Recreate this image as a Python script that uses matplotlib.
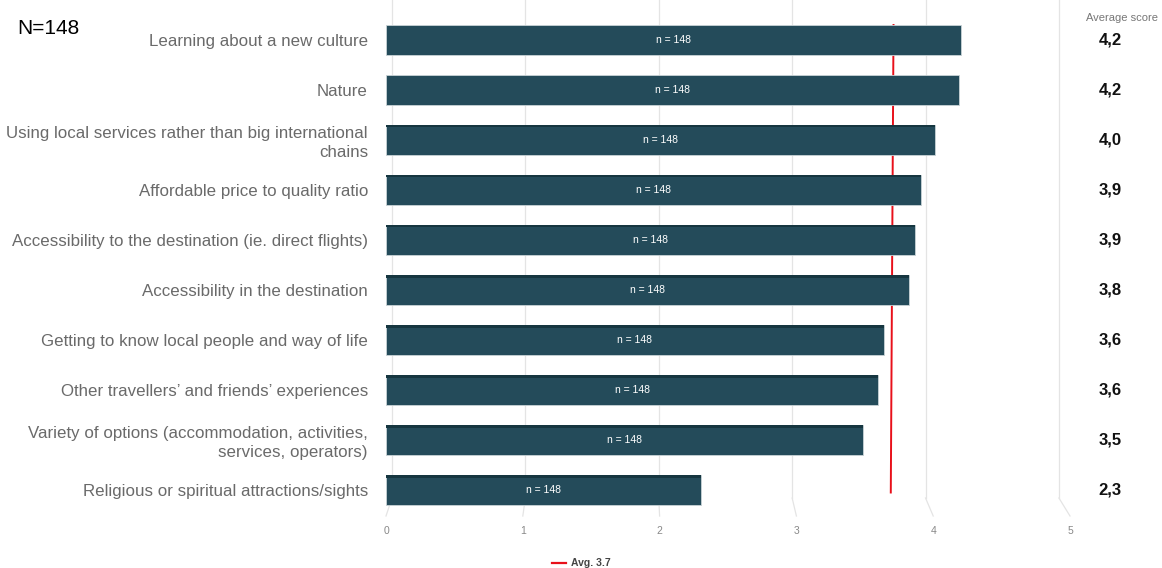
import numpy as np
import matplotlib.pyplot as plt
import matplotlib.transforms as mtransforms

plt.rcParams['font.family'] = ['Liberation Sans', 'DejaVu Sans']

categories = ['Learning about a new culture',
              'Nature',
              'Using local services rather than big international\nchains',
              'Affordable price to quality ratio',
              'Accessibility to the destination (ie. direct flights)',
              'Accessibility in the destination',
              'Getting to know local people and way of life',
              'Other travellers\u2019 and friends\u2019 experiences',
              'Variety of options (accommodation, activities,\nservices, operators)',
              'Religious or spiritual attractions/sights']
scores = [4.20, 4.19, 4.01, 3.91, 3.87, 3.82, 3.64, 3.60, 3.49, 2.30]
score_labels = ['4,2', '4,2', '4,0', '3,9', '3,9', '3,8', '3,6', '3,6', '3,5', '2,3']
n_resp = [148] * 10
avg = 3.7
ticks = [0, 1, 2, 3, 4, 5]

bar_col = '#244b5a'
top_col = '#163640'
grid_col = '#e4e4e4'

fig = plt.figure(figsize=(11.62, 5.68), dpi=100)
ax = fig.add_axes([386 / 1162, 1 - 515 / 568, (1070 - 386) / 1162, 500 / 568])

y = np.arange(len(categories))

# gridlines sit on a slightly narrower back wall, with a slanted foot to the tick
for t in ticks:
    xb = 0.044 + t * 0.975
    ax.plot([xb, xb], [-0.8, 9.16], color=grid_col, lw=0.9, zorder=0, clip_on=False)
    ax.plot([xb, t], [9.16, 9.52], color=grid_col, lw=0.9, zorder=0, clip_on=False)

# average line behind the bars
ax.plot([avg + 0.01, avg - 0.01], [-0.3, 9.05], color='#e8101a', lw=1.4, zorder=1)

ax.barh(y, scores, height=0.6, color=bar_col, edgecolor='#c9d3d6', linewidth=0.6, zorder=2)
# darker top face for the lower rows
for i, s in enumerate(scores):
    if i >= 2:
        d = min(0.015 + 0.008 * i, 0.07)
        ax.barh(i - 0.3 + d / 2, s, height=d, color=top_col, linewidth=0, zorder=3)

for i, s in enumerate(scores):
    ax.text(s / 2, i, f'n = {n_resp[i]}', color='white', fontsize=7.5,
            ha='center', va='center', zorder=4)

trans = mtransforms.blended_transform_factory(fig.transFigure, ax.transData)
for i, lab in enumerate(score_labels):
    ax.text(1110 / 1162, i, lab, transform=trans, fontsize=12, fontweight='bold',
            ha='center', va='center', color='#111111')
fig.text(1122 / 1162, 1 - 18 / 568, 'Average score', fontsize=8, color='#777777',
         ha='center', va='center')

ax.set_xlim(0, 5)
ax.set_ylim(9.5, -0.5)
ax.set_yticks(y)
ax.set_yticklabels(categories, fontsize=12.2, color='#6a6a6a', linespacing=1.3)
ax.set_xticks(ticks)
ax.set_xticklabels([str(t) for t in ticks], fontsize=7.5, color='#888888')
ax.tick_params(axis='y', length=0, pad=13)
ax.tick_params(axis='x', length=0, pad=8)
for sp in ax.spines.values():
    sp.set_visible(False)

fig.text(17 / 1162, 1 - 28 / 568, 'N=148', fontsize=15, color='black', va='center')

# legend entry at the bottom
fig.add_artist(plt.Line2D([552 / 1162, 566 / 1162], [1 - 563 / 568] * 2,
                          color='#e8101a', lw=1.6, transform=fig.transFigure))
fig.text(571 / 1162, 1 - 563 / 568, 'Avg. 3.7', fontsize=7.5, fontweight='bold',
         color='#444444', va='center')

fig.savefig('out.png', dpi=100, facecolor='white')
